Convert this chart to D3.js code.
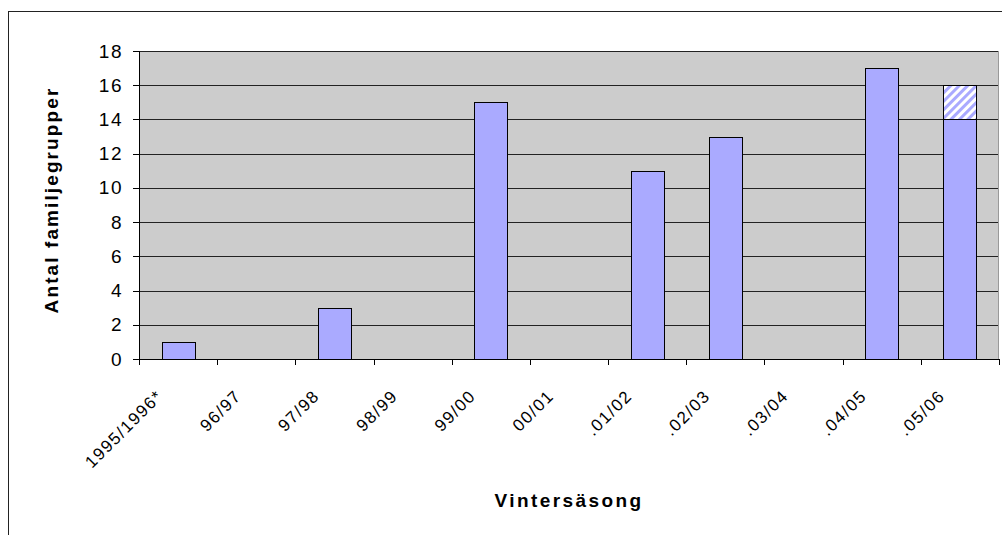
<!DOCTYPE html>
<html>
<head>
<meta charset="utf-8">
<script src="https://cdn.jsdelivr.net/npm/d3@7"></script>
<style>
  body { margin: 0; background: #fff; }
  svg { display: block; font-family: "Liberation Sans", Arial, sans-serif; }
</style>
</head>
<body>
<div id="chart"></div>
<script>
// data
var seasons = ["1995/1996*", "96/97", "97/98", "98/99", "99/00", "00/01",
  ".01/02", ".02/03", ".03/04", ".04/05", ".05/06"];
var confirmed = [1, 0, 3, 0, 15, 0, 11, 13, 0, 17, 14];
var uncertain = [0, 0, 0, 0, 0, 0, 0, 0, 0, 0, 2];
var yTicks = [0, 2, 4, 6, 8, 10, 12, 14, 16, 18];

var svgWidth = 1002;
var svgHeight = 535;

var margin = { top: 51, right: 3, bottom: 176, left: 139 };
var width = svgWidth - margin.left - margin.right;
var height = svgHeight - margin.top - margin.bottom;

var svg = d3.select("#chart")
  .append("svg")
  .attr("width", svgWidth)
  .attr("height", svgHeight);

// hatch for the uncertain part of the last bar
var pattern = svg.append("defs").append("pattern")
  .attr("id", "hatch")
  .attr("patternUnits", "userSpaceOnUse")
  .attr("width", 6)
  .attr("height", 6)
  .attr("patternTransform", "rotate(45)");
pattern.append("rect").attr("width", 6).attr("height", 6).attr("fill", "#aaaaff");
pattern.append("rect").attr("width", 3).attr("height", 6).attr("fill", "#ffffff");

// outer chart frame (runs off the picture right and bottom)
svg.append("rect")
  .attr("x", 8.5)
  .attr("y", 11.5)
  .attr("width", 1100)
  .attr("height", 600)
  .attr("fill", "none")
  .attr("stroke", "#222")
  .attr("stroke-width", 1);

var chartGroup = svg.append("g")
  .attr("transform", `translate(${margin.left}, ${margin.top})`);

var rows = seasons.map(function(s, i) {
  return { season: s, confirmed: confirmed[i], uncertain: uncertain[i] };
});

var xCat = d3.scaleBand()
  .domain(seasons)
  .range([0, width]);

var xBar = d3.scaleBand()
  .domain(seasons)
  .range([0, width])
  .paddingInner(0.58)
  .paddingOuter(0.29);

var yLinearScale = d3.scaleLinear()
  .domain([0, 18])
  .range([height, 0]);

// plot background
chartGroup.append("rect")
  .attr("width", width)
  .attr("height", height)
  .attr("fill", "#cccccc");

// gridlines
chartGroup.append("g")
  .attr("class", "grid")
  .call(d3.axisLeft(yLinearScale).tickValues(yTicks).tickSize(-width).tickFormat(""))
  .call(g => g.select(".domain").remove())
  .call(g => g.selectAll("line").attr("stroke", "#222").attr("shape-rendering", "crispEdges"));

// right edge of plot area
chartGroup.append("line")
  .attr("x1", width - 0.5).attr("x2", width - 0.5)
  .attr("y1", 0).attr("y2", height)
  .attr("stroke", "#999");

// bars
chartGroup.selectAll(".bar")
  .data(rows)
  .enter()
  .filter(d => d.confirmed > 0)
  .append("rect")
  .attr("class", "bar")
  .attr("x", d => Math.round(xBar(d.season)) + 0.5)
  .attr("y", d => Math.round(yLinearScale(d.confirmed)) + 0.5)
  .attr("width", Math.round(xBar.bandwidth()))
  .attr("height", d => Math.round(yLinearScale(0)) - Math.round(yLinearScale(d.confirmed)))
  .attr("fill", "#aaaaff")
  .attr("stroke", "#000")
  .attr("stroke-width", 1);

chartGroup.selectAll(".bar-hatch")
  .data(rows.filter(d => d.uncertain > 0))
  .enter()
  .append("rect")
  .attr("class", "bar-hatch")
  .attr("x", d => Math.round(xBar(d.season)) + 0.5)
  .attr("y", d => Math.round(yLinearScale(d.confirmed + d.uncertain)) + 0.5)
  .attr("width", Math.round(xBar.bandwidth()))
  .attr("height", d => Math.round(yLinearScale(d.confirmed)) - Math.round(yLinearScale(d.confirmed + d.uncertain)))
  .attr("fill", "url(#hatch)")
  .attr("stroke", "#000")
  .attr("stroke-width", 1);

// y axis
var leftAxis = d3.axisLeft(yLinearScale)
  .tickValues(yTicks)
  .tickSize(6)
  .tickPadding(10);

chartGroup.append("g")
  .attr("class", "y-axis")
  .call(leftAxis)
  .call(g => g.selectAll("line, .domain").attr("stroke", "#000").attr("shape-rendering", "crispEdges"))
  .call(g => g.selectAll("text")
    .attr("font-size", "19px")
    .attr("letter-spacing", "1.5px")
    .attr("fill", "#000"));

// x axis: line plus ticks on category boundaries
var xAxisG = chartGroup.append("g")
  .attr("class", "x-axis")
  .attr("transform", `translate(0, ${height})`);

xAxisG.append("line")
  .attr("x1", 0).attr("x2", width)
  .attr("y1", 0.5).attr("y2", 0.5)
  .attr("stroke", "#000");

var boundaries = seasons.map(s => xCat(s)).concat([width]);
xAxisG.selectAll(".xtick")
  .data(boundaries)
  .enter()
  .append("line")
  .attr("class", "xtick")
  .attr("x1", d => Math.round(d) + 0.5)
  .attr("x2", d => Math.round(d) + 0.5)
  .attr("y1", 0)
  .attr("y2", 6)
  .attr("stroke", "#000");

xAxisG.selectAll(".xlabel")
  .data(seasons)
  .enter()
  .append("text")
  .attr("class", "xlabel")
  .attr("transform", d => `translate(${xCat(d) + xCat.bandwidth() / 2 - 14}, 38) rotate(-45)`)
  .attr("text-anchor", "end")
  .attr("font-size", "17px")
  .attr("letter-spacing", "1.5px")
  .attr("fill", "#000")
  .text(d => d);

// axis titles
svg.append("text")
  .attr("transform", `translate(58, 200) rotate(-90)`)
  .attr("text-anchor", "middle")
  .attr("font-size", "19px")
  .attr("font-weight", "bold")
  .attr("letter-spacing", "2.1px")
  .attr("fill", "#000")
  .text("Antal familjegrupper");

svg.append("text")
  .attr("x", margin.left + width / 2)
  .attr("y", 507)
  .attr("text-anchor", "middle")
  .attr("font-size", "19px")
  .attr("font-weight", "bold")
  .attr("letter-spacing", "2.4px")
  .attr("fill", "#000")
  .text("Vintersäsong");
</script>
</body>
</html>
